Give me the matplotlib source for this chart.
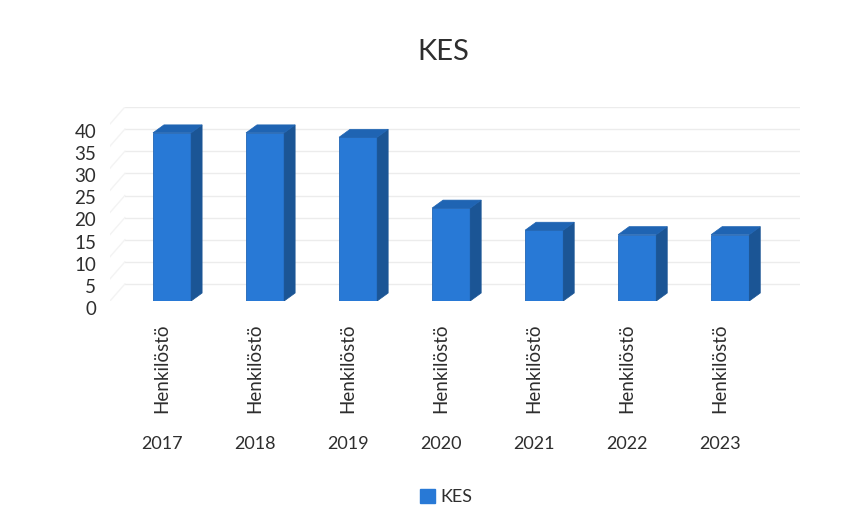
import numpy as np
import matplotlib
matplotlib.use('Agg')
import matplotlib.pyplot as plt
import matplotlib.transforms as mtransforms
from matplotlib.patches import Polygon, Patch

# data
years = ['2017', '2018', '2019', '2020', '2021', '2022', '2023']
groups = ['Henkilöstö'] * 7
kes = [38, 38, 37, 21, 16, 15, 15]
y_ticks = [0, 5, 10, 15, 20, 25, 30, 35, 40]

plt.rcParams['font.family'] = ['Lato', 'DejaVu Sans']

front = '#2879d6'
side = '#1b5595'
top = '#1f64b3'
text_col = '#2e2e2e'
grid_col = '#ececec'

fig = plt.figure(figsize=(8.62, 5.26), dpi=100)
ax = fig.add_axes([110 / 862, 225 / 526, 690 / 862, 194 / 526])

x = np.arange(len(years))
w = 0.41
dx, dy = 0.118, 1.8          # bar depth (data units)
wall_dx, wall_dy = 0.16, 3.84  # back wall offset
xlo, xhi = -0.667, 6.75

# back wall gridlines + faint left wall diagonals
for t in y_ticks:
    ax.plot([xlo + wall_dx, xhi], [t + wall_dy] * 2, color=grid_col, lw=1, zorder=1)
    ax.plot([xlo, xlo + wall_dx], [t, t + wall_dy], color='#f3f3f3', lw=1, zorder=1)

# front faces
ax.bar(x, kes, w, color=front, edgecolor='#2166b5', lw=0.6, zorder=3)
# side and top faces
for xi, v in zip(x, kes):
    r = xi + w / 2
    l = xi - w / 2
    ax.add_patch(Polygon([(r, 0), (r, v), (r + dx, v + dy), (r + dx, dy)],
                         closed=True, fc=side, ec=side, lw=0.5, zorder=3))
    ax.add_patch(Polygon([(l, v), (r, v), (r + dx, v + dy), (l + dx, v + dy)],
                         closed=True, fc=top, ec=top, lw=0.5, zorder=3))

ax.set_xlim(xlo, xhi)
ax.set_ylim(0, 40 + wall_dy)
for s in ax.spines.values():
    s.set_visible(False)

ax.set_yticks(y_ticks, labels=[str(t) for t in y_ticks])
ax.tick_params(axis='y', length=0, pad=10, labelsize=13.5, labelcolor=text_col)

ax.xaxis.remove_overlapping_locs = False
ax.set_xticks(x, labels=groups, rotation=90)
ax.set_xticks(x, labels=years, minor=True)
ax.tick_params(axis='x', which='major', length=0, pad=16, labelsize=13.5, labelcolor=text_col)
ax.tick_params(axis='x', which='minor', length=0, pad=97, labelsize=13, labelcolor=text_col)

shift_x = mtransforms.ScaledTranslation(-0.10, 0, fig.dpi_scale_trans)
shift_y = mtransforms.ScaledTranslation(0, -0.07, fig.dpi_scale_trans)
for lbl in ax.get_xticklabels() + ax.get_xticklabels(minor=True):
    lbl.set_transform(lbl.get_transform() + shift_x)
for lbl in ax.get_yticklabels():
    lbl.set_transform(lbl.get_transform() + shift_y)

fig.text(443 / 862, 1 - 52 / 526, 'KES', ha='center', va='center',
         fontsize=21, color=text_col)

fig.legend(handles=[Patch(color=front)], labels=['KES'], loc='center',
           bbox_to_anchor=(446 / 862, 1 - 497 / 526), frameon=False,
           handlelength=0.8, handleheight=0.8, handletextpad=0.3,
           fontsize=13, labelcolor=text_col)

fig.savefig('out.png', dpi=100)
